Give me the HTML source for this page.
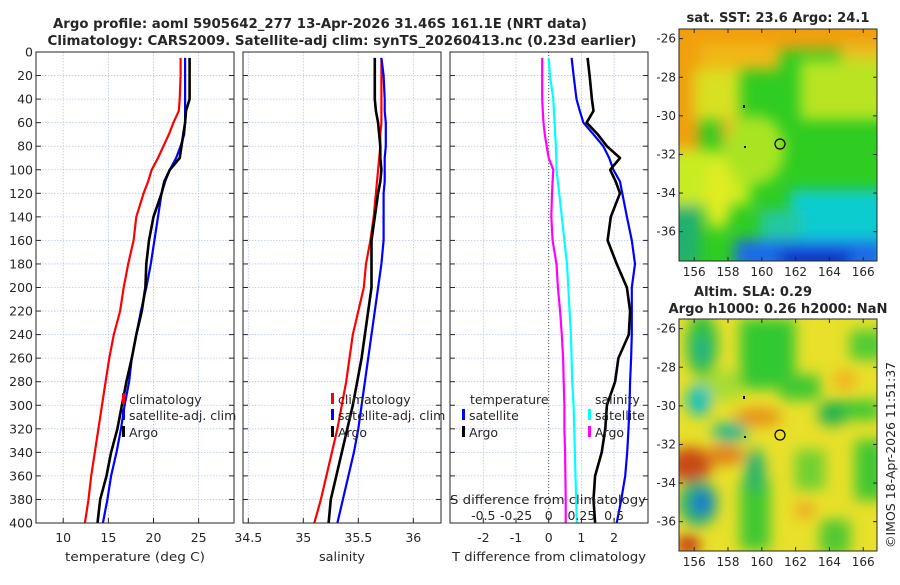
<!DOCTYPE html>
<html><head><meta charset="utf-8"><style>
html,body{margin:0;padding:0;background:#fff;}
svg text{font-family:"DejaVu Sans","Liberation Sans",sans-serif;fill:#262626;}
</style></head><body>
<svg id="fig" width="900" height="580" viewBox="0 0 900 580" xmlns="http://www.w3.org/2000/svg">
<defs>
<filter id="blur6" x="-50%" y="-50%" width="200%" height="200%"><feGaussianBlur stdDeviation="7"/></filter>
<clipPath id="clipA"><rect x="679" y="29" width="198" height="232"/></clipPath>
<clipPath id="clipB"><rect x="679" y="319" width="198" height="232"/></clipPath>
</defs>
<text x="320" y="28" text-anchor="middle" font-size="13" font-weight="bold" fill="#000" textLength="534" lengthAdjust="spacingAndGlyphs">Argo profile: aoml 5905642_277 13-Apr-2026 31.46S 161.1E (NRT data)</text>
<text x="342" y="45" text-anchor="middle" font-size="13" font-weight="bold" fill="#000" textLength="589" lengthAdjust="spacingAndGlyphs">Climatology: CARS2009. Satellite-adj clim: synTS_20260413.nc (0.23d earlier)</text>

<!-- Map A: SST -->
<g clip-path="url(#clipA)">
<rect x="679" y="29" width="198" height="232" fill="#2fcc22"/>
<g filter="url(#blur6)">
<rect x="660" y="10" width="240" height="40" fill="#f0a010"/>
<rect x="700" y="45" width="80" height="25" fill="#f0b818"/>
<rect x="840" y="45" width="50" height="20" fill="#e8c020"/>
<rect x="660" y="50" width="40" height="110" fill="#f0a010"/>
<rect x="695" y="70" width="45" height="50" fill="#d8e020"/>
<rect x="800" y="60" width="90" height="60" fill="#b8e420"/>
<rect x="720" y="120" width="45" height="25" fill="#e8b020"/>
<rect x="660" y="150" width="90" height="55" fill="#c8ec20"/>
<ellipse cx="718" cy="195" rx="14" ry="35" fill="#e0ec20"/>
<ellipse cx="755" cy="150" rx="30" ry="35" fill="#a8e420"/>
<rect x="790" y="190" width="100" height="80" fill="#10ccd0"/>
<rect x="760" y="210" width="40" height="50" fill="#20c8a0"/>
<rect x="660" y="205" width="40" height="60" fill="#20b070"/>
<rect x="735" y="240" width="150" height="30" fill="#1f6ae8"/>
<rect x="780" y="250" width="70" height="20" fill="#1030c8"/>
</g>
</g>
<rect x="679" y="29" width="198" height="232" fill="none" stroke="#262626" stroke-width="1"/>
<circle cx="780" cy="144" r="5" fill="none" stroke="#000" stroke-width="1.2"/>
<rect x="743" y="105" width="2" height="3" fill="#000"/><rect x="744" y="146" width="2" height="2" fill="#000"/>
<text x="778" y="22" text-anchor="middle" font-size="13" font-weight="bold" fill="#000" textLength="183" lengthAdjust="spacingAndGlyphs">sat. SST: 23.6 Argo: 24.1</text>

<!-- Map B: SLA -->
<g clip-path="url(#clipB)">
<rect x="679" y="319" width="198" height="232" fill="#e8e02a"/>
<g filter="url(#blur6)">
<rect x="740" y="319" width="55" height="70" fill="#30c830"/>
<rect x="780" y="375" width="40" height="25" fill="#40c830"/>
<rect x="830" y="400" width="50" height="20" fill="#40c830"/>
<rect x="850" y="330" width="35" height="30" fill="#50cc30"/>
<rect x="855" y="440" width="30" height="60" fill="#40c830"/>
<rect x="795" y="450" width="30" height="40" fill="#70d030"/>
<rect x="740" y="480" width="30" height="70" fill="#40c830"/>
<rect x="820" y="520" width="30" height="35" fill="#50c830"/>
<rect x="700" y="370" width="40" height="30" fill="#a8dc30"/>
<ellipse cx="702" cy="345" rx="16" ry="32" fill="#30c040"/>
<ellipse cx="702" cy="350" rx="7" ry="14" fill="#20b090"/>
<ellipse cx="699" cy="400" rx="12" ry="16" fill="#10c0c0"/>
<ellipse cx="730" cy="432" rx="18" ry="10" fill="#20b890"/>
<ellipse cx="832" cy="414" rx="14" ry="12" fill="#20b050"/>
<ellipse cx="755" cy="470" rx="10" ry="22" fill="#20b070"/>
<ellipse cx="690" cy="465" rx="22" ry="18" fill="#c84818"/>
<ellipse cx="725" cy="455" rx="20" ry="10" fill="#e08018"/>
<ellipse cx="758" cy="417" rx="24" ry="9" fill="#e89018"/>
<ellipse cx="698" cy="503" rx="20" ry="24" fill="#30b070"/>
<ellipse cx="702" cy="503" rx="8" ry="12" fill="#1060e0"/>
<ellipse cx="688" cy="545" rx="12" ry="10" fill="#c03010"/>
<ellipse cx="805" cy="510" rx="10" ry="8" fill="#f0a020"/>
<ellipse cx="845" cy="380" rx="12" ry="10" fill="#f0b020"/>
</g>
</g>
<rect x="679" y="319" width="198" height="232" fill="none" stroke="#262626" stroke-width="1"/>
<circle cx="780" cy="435" r="5" fill="none" stroke="#000" stroke-width="1.2"/>
<rect x="743" y="396" width="2" height="3" fill="#000"/><rect x="744" y="436" width="2" height="2" fill="#000"/>
<text x="753" y="296" text-anchor="middle" font-size="13" font-weight="bold" fill="#000" textLength="118" lengthAdjust="spacingAndGlyphs">Altim. SLA: 0.29</text>
<text x="778" y="313" text-anchor="middle" font-size="13" font-weight="bold" fill="#000" textLength="219" lengthAdjust="spacingAndGlyphs">Argo h1000: 0.26 h2000: NaN</text>
<text transform="translate(895,548) rotate(-90)" font-size="12.5">©IMOS 18-Apr-2026 11:51:37</text>
<g id="dyn"></g>
</svg>
<script>
const depths = [5,20,40,50,60,70,80,90,100,110,120,140,160,180,200,220,240,260,280,300,320,340,360,380,400];
const tClim = [23.0,23.0,22.9,22.8,22.2,21.7,21.1,20.5,19.8,19.4,18.9,18.1,17.8,17.2,16.7,16.3,15.6,15.1,14.7,14.3,13.9,13.5,13.1,12.8,12.4];
const tSat  = [23.5,23.5,23.5,23.5,23.5,23.4,23.0,22.5,21.8,21.3,20.9,20.5,20.1,19.7,19.2,18.6,18.1,17.6,17.3,16.8,16.4,15.9,15.3,14.9,14.4];
const tArgo = [24.0,24.0,24.0,23.6,23.5,23.3,23.1,22.9,21.8,21.2,20.9,20.0,19.5,19.2,19.1,18.7,18.1,17.6,17.0,16.5,16.0,15.3,14.8,14.1,13.8];
const sClim = [35.71,35.71,35.71,35.71,35.71,35.70,35.70,35.69,35.68,35.67,35.66,35.64,35.61,35.57,35.55,35.50,35.45,35.42,35.39,35.35,35.31,35.26,35.21,35.16,35.10];
const sSat  = [35.71,35.73,35.74,35.74,35.75,35.75,35.75,35.74,35.74,35.74,35.73,35.73,35.73,35.71,35.68,35.65,35.62,35.59,35.56,35.53,35.50,35.46,35.41,35.36,35.31];
const sArgo = [35.65,35.65,35.65,35.66,35.68,35.69,35.70,35.70,35.71,35.70,35.68,35.65,35.62,35.62,35.62,35.59,35.56,35.53,35.49,35.45,35.40,35.35,35.30,35.25,35.23];
const dtSat  = [0.70,0.76,0.85,0.95,1.06,1.37,1.67,1.85,1.98,2.18,2.25,2.39,2.54,2.64,2.54,2.54,2.54,2.52,2.49,2.47,2.44,2.40,2.34,2.22,2.08];
const dtArgo = [1.19,1.25,1.32,1.37,1.16,1.50,1.78,2.18,1.88,2.05,2.18,1.90,1.80,2.08,2.39,2.49,2.45,2.13,2.03,1.78,1.73,1.62,1.42,1.37,1.42];
const dsSat  = [0.0,0.01,0.035,0.04,0.045,0.05,0.055,0.058,0.06,0.07,0.08,0.1,0.12,0.14,0.15,0.16,0.17,0.175,0.18,0.19,0.195,0.2,0.205,0.21,0.215];
const dsArgo = [-0.05,-0.05,-0.05,-0.045,-0.04,-0.03,-0.015,0.0,0.035,0.03,0.025,0.02,0.03,0.06,0.07,0.087,0.10,0.11,0.115,0.12,0.12,0.125,0.128,0.13,0.13];
const depthTicks = [0,20,40,60,80,100,120,140,160,180,200,220,240,260,280,300,320,340,360,380,400];
const tTicks = [10,15,20,25];
const sTicks = [34.5,35,35.5,36];
const dtTicks = [-2,-1,0,1,2];
const dsTicks = [-0.5,-0.25,0,0.25,0.5];
const dsTickLabels = ["-0.5","-0.25","0","0.25","0.5"];
const lonTicks = [156,158,160,162,164,166];
const latTicks = [-26,-28,-30,-32,-34,-36];

const NS='http://www.w3.org/2000/svg';
const g=document.getElementById('dyn');
function mk(tag,attrs,parent){const e=document.createElementNS(NS,tag);for(const k in attrs)e.setAttribute(k,attrs[k]);(parent||g).appendChild(e);return e;}
const Y0=52,Y1=523;
const y=d=>Y0+d*(Y1-Y0)/400;
const x1=t=>63.2+(t-10)*9.03;
const x2=s=>248.3+(s-34.5)*110;
const x3=v=>548.7+v*32.7;
const x3s=s=>x3(s*4);
const panels=[{L:36,R:234,sc:x1,ticks:tTicks,lab:'temperature (deg C)',w:140,name:'temperature-panel'},
 {L:243,R:441,sc:x2,ticks:sTicks,lab:'salinity',w:46,name:'salinity-panel'},
 {L:450,R:648,sc:x3,ticks:dtTicks,lab:'T difference from climatology',w:194,name:'difference-panel'}];
panels.forEach((p,pi)=>{
  const grp=mk('g',{});
  
  
  depthTicks.forEach(d=>{
    mk('line',{x1:p.L,x2:p.R,y1:y(d),y2:y(d),stroke:'#b8c4ee','stroke-width':0.8,'stroke-dasharray':'1.5,1.5'},grp);
    mk('line',{x1:p.L,x2:p.L+5,y1:y(d),y2:y(d),stroke:'#262626'},grp);
    mk('line',{x1:p.R-5,x2:p.R,y1:y(d),y2:y(d),stroke:'#262626'},grp);
    if(pi===0){const t=mk('text',{x:p.L-3,y:y(d)+4.5,'text-anchor':'end','font-size':12.5},grp);t.textContent=d;
      
      }
  });
  p.ticks.forEach(v=>{
    mk('line',{x1:p.sc(v),x2:p.sc(v),y1:Y0,y2:Y1,stroke:'#b8c4ee','stroke-width':0.8,'stroke-dasharray':'1.5,1.5'},grp);
    mk('line',{x1:p.sc(v),x2:p.sc(v),y1:Y1,y2:Y1-5,stroke:'#262626'},grp);
    const t=mk('text',{x:p.sc(v),y:Y1+19,'text-anchor':'middle','font-size':12.5},grp);t.textContent=v;
    
    
  });
  const xl=mk('text',{x:(p.L+p.R)/2,y:Y1+38,'text-anchor':'middle','font-size':12.5,textLength:p.w,lengthAdjust:'spacingAndGlyphs'},grp);xl.textContent=p.lab;
  
  
});
mk('line',{x1:x3(0),x2:x3(0),y1:Y0,y2:Y1,stroke:'#555','stroke-width':1,'stroke-dasharray':'1,2'});

function line(xs,sc,color,w,name){
  const pts=depths.map((d,i)=>sc(xs[i]).toFixed(1)+','+y(d).toFixed(1)).join(' ');
  const e=mk('polyline',{points:pts,fill:'none',stroke:color,'stroke-width':w,'stroke-linejoin':'round'});
  
  
}
line(tClim,x1,'#ff0000',2.2,'temp-climatology-line');
line(tSat,x1,'#0000ff',2.2,'temp-satellite-line');
line(tArgo,x1,'#000000',2.6,'temp-argo-line');
line(sClim,x2,'#ff0000',2.2,'sal-climatology-line');
line(sSat,x2,'#0000ff',2.2,'sal-satellite-line');
line(sArgo,x2,'#000000',2.6,'sal-argo-line');
line(dsArgo,x3s,'#ff00ff',2.2,'sdiff-argo-line');
line(dsSat,x3s,'#00ffff',2.2,'sdiff-satellite-line');
line(dtSat,x3,'#0000ff',2.2,'tdiff-satellite-line');
line(dtArgo,x3,'#000000',2.6,'tdiff-argo-line');

panels.forEach(p=>mk('rect',{x:p.L,y:Y0,width:p.R-p.L,height:Y1-Y0,fill:'none',stroke:'#262626','stroke-width':1}));

function legend(x,yy,color,label,name){
  mk('rect',{x:x,y:yy-11,width:3,height:11,fill:color});
  const t=mk('text',{x:x+7,y:yy,'font-size':12.5});t.textContent=label;
  
  
}
legend(122,404,'#ff0000','climatology','legend-temp-climatology');
legend(122,420,'#0000ff','satellite-adj. clim','legend-temp-satellite');
legend(122,437,'#000000','Argo','legend-temp-argo');
legend(331,404,'#ff0000','climatology','legend-sal-climatology');
legend(331,420,'#0000ff','satellite-adj. clim','legend-sal-satellite');
legend(331,437,'#000000','Argo','legend-sal-argo');
let t=mk('text',{x:470,y:404,'font-size':12.5});t.textContent='temperature';


t=mk('text',{x:595,y:404,'font-size':12.5});t.textContent='salinity';


legend(462,420,'#0000ff','satellite','legend-tdiff-satellite');
legend(462,437,'#000000','Argo','legend-tdiff-argo');
legend(588,420,'#00ffff','satellite','legend-sdiff-satellite');
legend(588,437,'#ff00ff','Argo','legend-sdiff-argo');
t=mk('text',{x:548,y:504,'text-anchor':'middle','font-size':12.5,textLength:196,lengthAdjust:'spacingAndGlyphs'});t.textContent='S difference from climatology';


dsTicks.forEach((v,i)=>{const e=mk('text',{x:x3s(v),y:520,'text-anchor':'middle','font-size':12.5});e.textContent=dsTickLabels[i];
  
  });

// map ticks
const lonX=l=>679+(l-155.1)*16.9;
[[29,261],[319,551]].forEach(([top,bot])=>{
  lonTicks.forEach(l=>{
    mk('line',{x1:lonX(l),x2:lonX(l),y1:bot,y2:bot-4,stroke:'#262626'});
    mk('line',{x1:lonX(l),x2:lonX(l),y1:top,y2:top+4,stroke:'#262626'});
    const e=mk('text',{x:lonX(l),y:bot+15,'text-anchor':'middle','font-size':12});e.textContent=l;
    
    
  });
  latTicks.forEach(la=>{
    const yy=top+(-25.5-la)*19.3;
    mk('line',{x1:679,x2:683,y1:yy,y2:yy,stroke:'#262626'});
    mk('line',{x1:873,x2:877,y1:yy,y2:yy,stroke:'#262626'});
    const e=mk('text',{x:676,y:yy+4,'text-anchor':'end','font-size':12});e.textContent=la;
    
    
  });
});
</script>
</body></html>
